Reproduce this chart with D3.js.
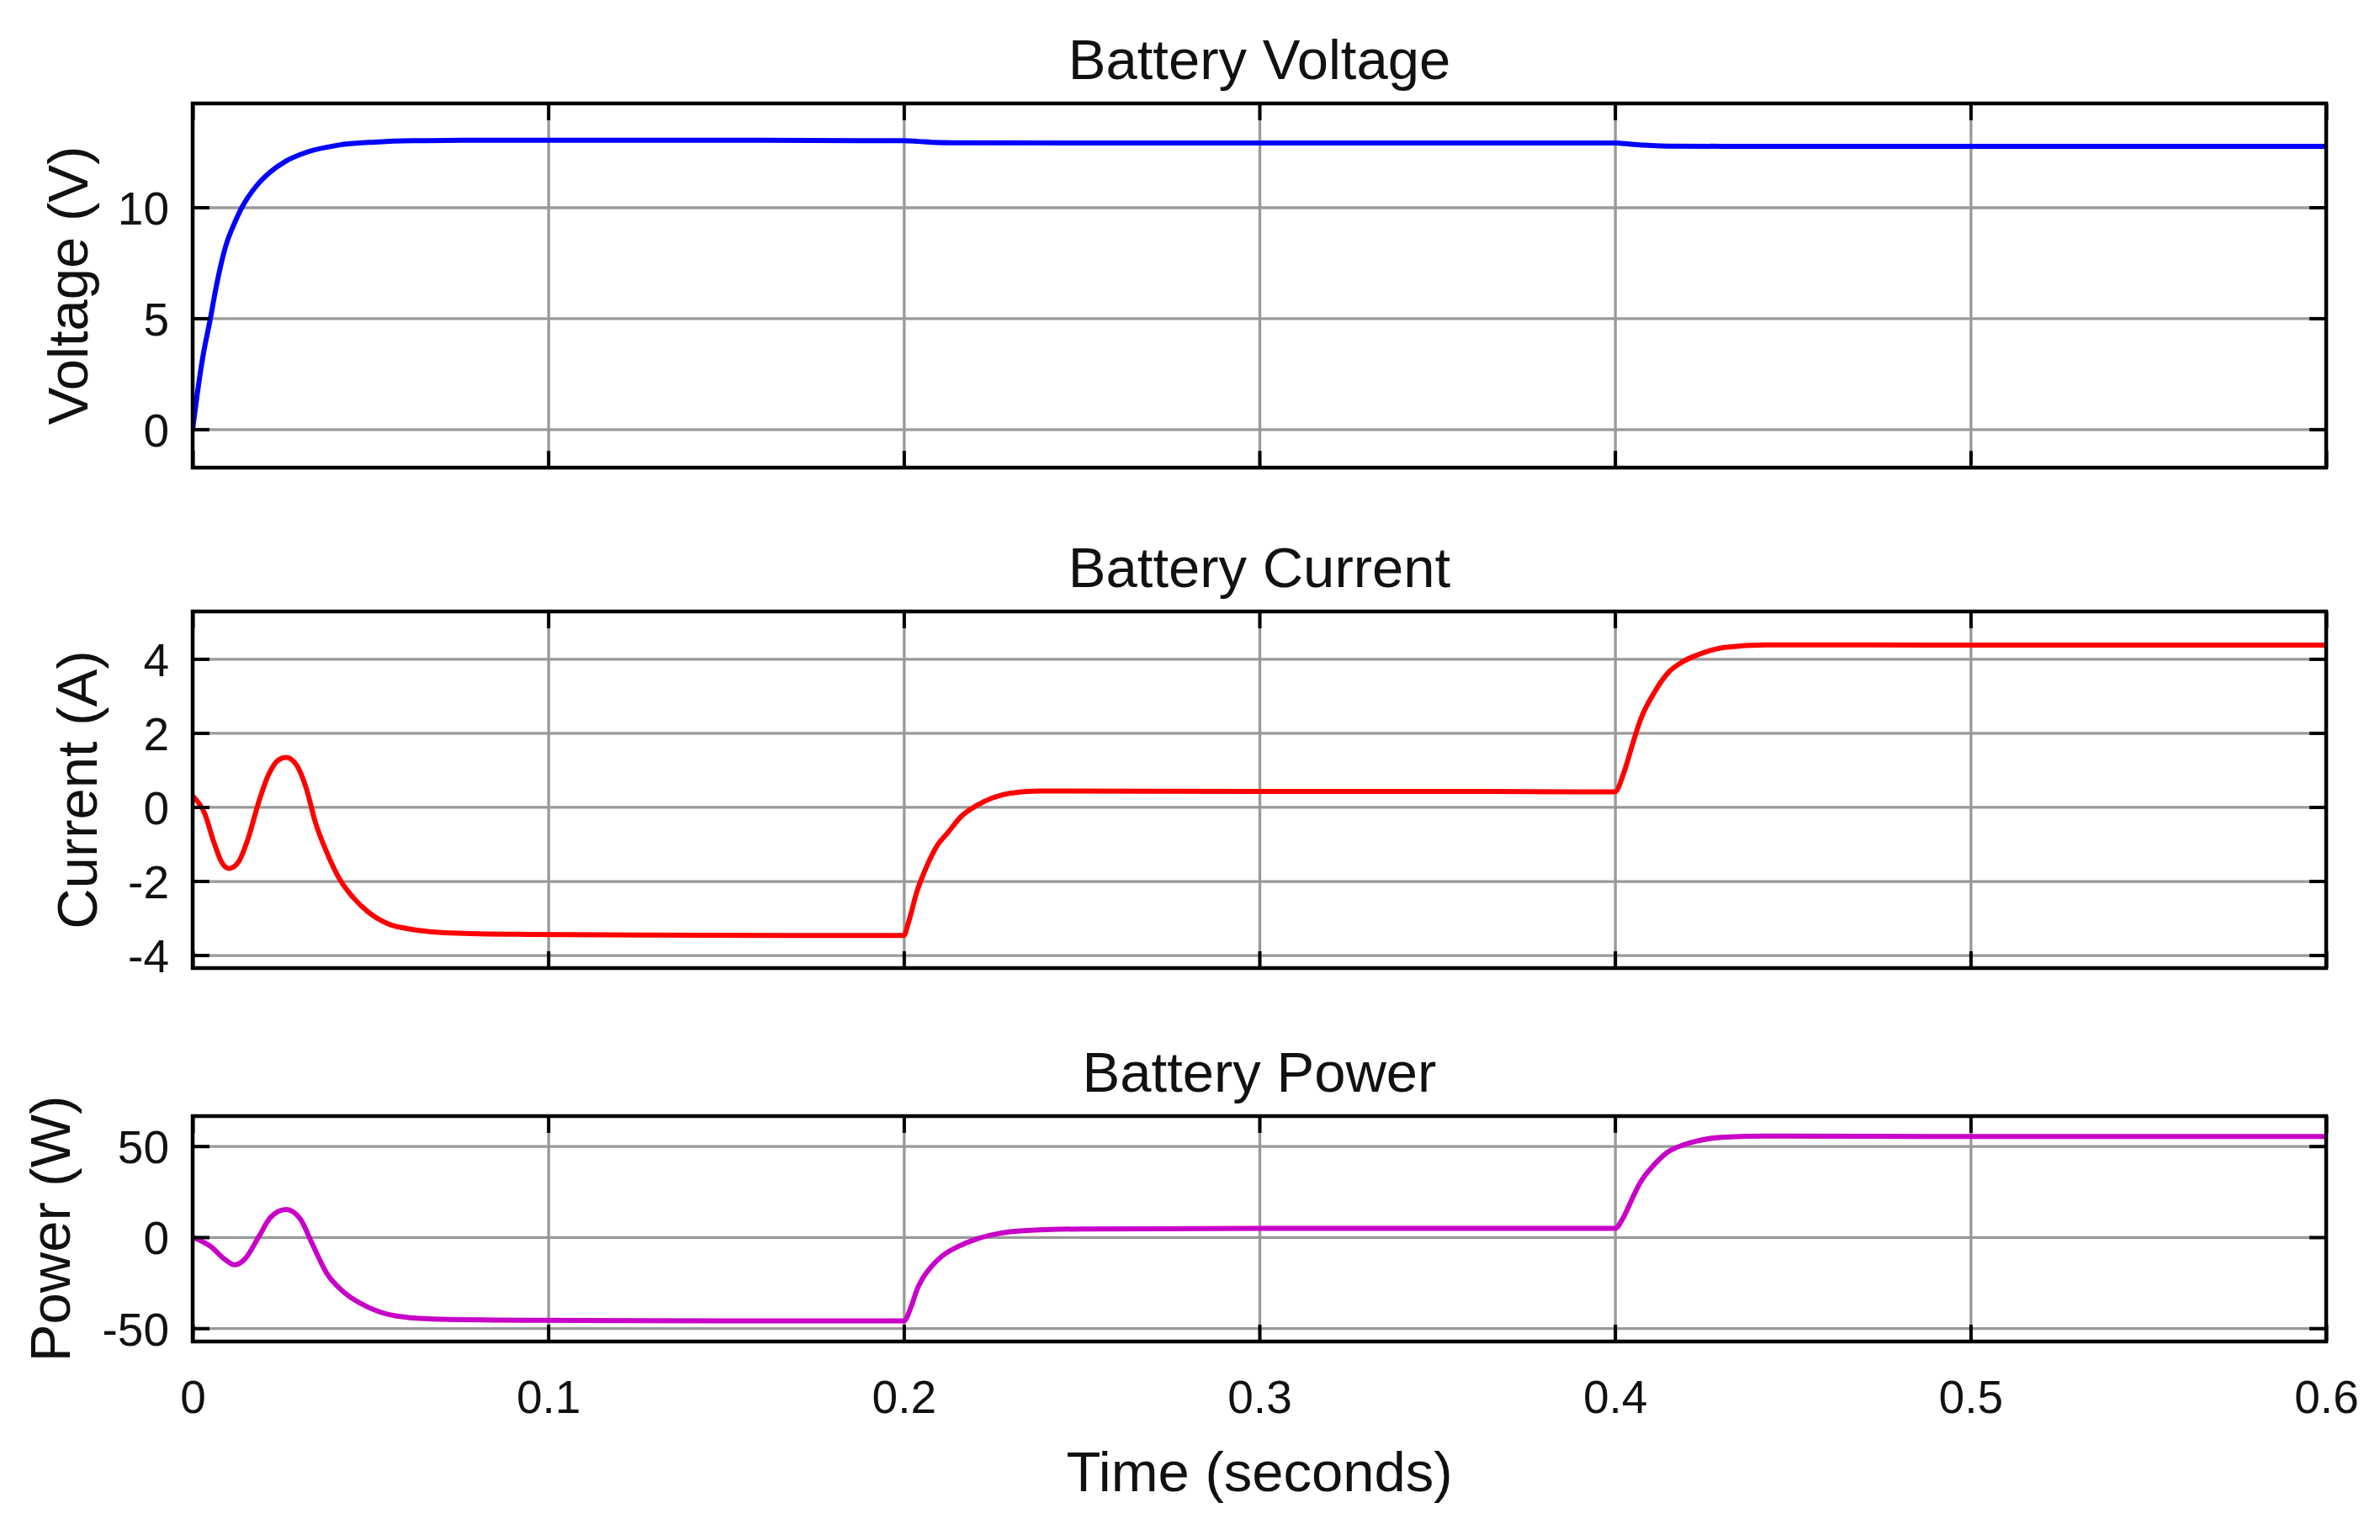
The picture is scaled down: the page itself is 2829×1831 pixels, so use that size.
<!DOCTYPE html>
<html>
<head>
<meta charset="utf-8">
<script src="https://cdn.jsdelivr.net/npm/d3@7"></script>
<style>
  html, body { margin: 0; padding: 0; background: #fff; }
  svg { display: block; }
  text { font-family: "Liberation Sans", Arial, sans-serif; fill: #111; }
</style>
</head>
<body>
<script>
// ---------------- DATA ----------------
const xTicks = [0, 0.1, 0.2, 0.3, 0.4, 0.5, 0.6];
const xTickLabels = ["0", "0.1", "0.2", "0.3", "0.4", "0.5", "0.6"];

const voltageTicks = [0, 5, 10];
const currentTicks = [-4, -2, 0, 2, 4];
const powerTicks = [-50, 0, 50];

const titles = ["Battery Voltage", "Battery Current", "Battery Power"];
const yLabels = ["Voltage (V)", "Current (A)", "Power (W)"];
const xLabel = "Time (seconds)";

const voltageTime = [0, 0.0013, 0.0028, 0.005, 0.0066, 0.0092, 0.0118, 0.014, 0.0176, 0.0219, 0.0261, 0.0324, 0.0409, 0.0513, 0.0619, 0.08, 0.12, 0.16, 0.2, 0.204, 0.208, 0.214, 0.25, 0.3, 0.35, 0.4, 0.404, 0.408, 0.4145, 0.43, 0.5, 0.6];
const voltageValues = [0, 1.6, 3.2, 5.0, 6.4, 8.2, 9.3, 10.04, 10.9, 11.6, 12.07, 12.5, 12.8, 12.94, 13.0, 13.02, 13.02, 13.02, 13.0, 12.97, 12.93, 12.91, 12.9, 12.9, 12.9, 12.9, 12.85, 12.8, 12.76, 12.75, 12.75, 12.75];

const currentTime = [0, 0.0034, 0.006, 0.0081, 0.0102, 0.0129, 0.0155, 0.0187, 0.0213, 0.024, 0.0263, 0.0293, 0.0319, 0.0346, 0.0377, 0.0414, 0.0451, 0.0493, 0.0546, 0.062, 0.0726, 0.0937, 0.13, 0.17, 0.2, 0.2013, 0.2037, 0.2061, 0.2092, 0.2124, 0.2163, 0.2203, 0.225, 0.2297, 0.2376, 0.3, 0.35, 0.4, 0.4024, 0.4048, 0.4071, 0.4111, 0.415, 0.419, 0.423, 0.4308, 0.4426, 0.5, 0.6];
const currentValues = [0.3, -0.18, -0.96, -1.48, -1.66, -1.48, -0.88, 0.17, 0.86, 1.26, 1.34, 1.12, 0.52, -0.44, -1.22, -1.96, -2.44, -2.83, -3.14, -3.31, -3.40, -3.44, -3.46, -3.47, -3.47, -3.12, -2.28, -1.68, -1.07, -0.69, -0.24, 0.03, 0.25, 0.37, 0.43, 0.42, 0.42, 0.41, 0.9, 1.65, 2.34, 3.1, 3.63, 3.92, 4.1, 4.31, 4.38, 4.37, 4.37];

const powerTime = [0, 0.005, 0.0092, 0.0118, 0.0145, 0.0187, 0.0219, 0.0263, 0.0303, 0.0335, 0.0377, 0.043, 0.0493, 0.0567, 0.0673, 0.094, 0.15, 0.2, 0.2021, 0.2037, 0.2053, 0.2076, 0.2108, 0.2155, 0.2203, 0.2266, 0.2337, 0.25, 0.3, 0.4, 0.4024, 0.4048, 0.4071, 0.4111, 0.415, 0.419, 0.423, 0.4308, 0.4426, 0.5, 0.6];
const powerValues = [0, -5, -12.4, -15.2, -12.4, 0.6, 10.9, 15.2, 9.9, -3.1, -19.8, -31, -38.4, -43.1, -44.9, -45.6, -46, -46, -38, -28.8, -22.6, -16.5, -10.3, -4.9, -1.1, 2.0, 3.6, 4.5, 4.8, 4.8, 11, 21, 30, 40, 47, 50.5, 52.8, 55, 55.5, 55.3, 55.3];

const yDomains = [[-1.73, 14.68], [-4.35, 5.28], [-57.3, 66.5]];
const seriesColors = ["#0000ff", "#ff0000", "#c800c8"];

// ---------------- LAYOUT ----------------
const W = 2829, H = 1831;
const left = 229, right = 2765;
const panelBoxes = [
  { top: 123, bottom: 556, yLabelX: 104 },
  { top: 727, bottom: 1151, yLabelX: 115 },
  { top: 1327, bottom: 1595, yLabelX: 83 }
];
const tickLen = 20;
const titleSize = 67, tickSize = 55, labelSize = 67;

const svg = d3.select("body").append("svg").attr("width", W).attr("height", H);

const x = d3.scaleLinear().domain([0, 0.6]).range([left, right]);

const series = [
  { t: voltageTime, v: voltageValues, ticks: voltageTicks },
  { t: currentTime, v: currentValues, ticks: currentTicks },
  { t: powerTime, v: powerValues, ticks: powerTicks }
];

panelBoxes.forEach((box, i) => {
  const y = d3.scaleLinear().domain(yDomains[i]).range([box.bottom, box.top]);
  const g = svg.append("g");
  const w = right - left, h = box.bottom - box.top;

  const clipId = "clip" + i;
  svg.append("clipPath").attr("id", clipId)
    .append("rect").attr("x", left).attr("y", box.top).attr("width", w).attr("height", h);

  // gridlines
  const gridX = g.append("g").attr("transform", `translate(0,${box.bottom})`)
    .call(d3.axisBottom(x).tickValues(xTicks).tickSize(-h).tickFormat(""));
  const gridY = g.append("g").attr("transform", `translate(${left},0)`)
    .call(d3.axisLeft(y).tickValues(series[i].ticks).tickSize(-w).tickFormat(""));
  [gridX, gridY].forEach(a => {
    a.select(".domain").remove();
    a.selectAll("line").attr("stroke", "#999").attr("stroke-width", 3.3);
  });

  // data line
  const data = series[i].t.map((t, k) => [t, series[i].v[k]]);
  const line = d3.line().x(d => x(d[0])).y(d => y(d[1])).curve(d3.curveMonotoneX);
  g.append("path").datum(data)
    .attr("clip-path", `url(#${clipId})`)
    .attr("d", line)
    .attr("fill", "none")
    .attr("stroke", seriesColors[i])
    .attr("stroke-width", 6)
    .attr("stroke-linejoin", "round");

  // inward ticks on all four sides
  const axes = [
    g.append("g").attr("transform", `translate(0,${box.bottom})`)
      .call(d3.axisBottom(x).tickValues(xTicks).tickSize(-tickLen).tickFormat("")),
    g.append("g").attr("transform", `translate(0,${box.top})`)
      .call(d3.axisTop(x).tickValues(xTicks).tickSize(-tickLen).tickFormat("")),
    g.append("g").attr("transform", `translate(${left},0)`)
      .call(d3.axisLeft(y).tickValues(series[i].ticks).tickSize(-tickLen).tickFormat("")),
    g.append("g").attr("transform", `translate(${right},0)`)
      .call(d3.axisRight(y).tickValues(series[i].ticks).tickSize(-tickLen).tickFormat(""))
  ];
  axes.forEach(a => {
    a.select(".domain").remove();
    a.selectAll("line").attr("stroke", "#000").attr("stroke-width", 4);
  });

  // frame
  g.append("rect").attr("x", left).attr("y", box.top).attr("width", w).attr("height", h)
    .attr("fill", "none").attr("stroke", "#000").attr("stroke-width", 4.5);

  // y tick labels (plain hyphen for negatives)
  const yl = g.append("g").attr("transform", `translate(${left},0)`)
    .call(d3.axisLeft(y).tickValues(series[i].ticks).tickSize(0).tickPadding(28).tickFormat(d => String(d)));
  yl.select(".domain").remove();
  yl.selectAll("text").attr("font-size", tickSize).attr("fill", "#111")
    .attr("font-family", "Liberation Sans, Arial, sans-serif").attr("dy", "0.36em");

  // title
  svg.append("text").attr("x", (left + right) / 2).attr("y", box.top - 29)
    .attr("text-anchor", "middle").attr("font-size", titleSize).text(titles[i]);

  // y label
  svg.append("text")
    .attr("transform", `translate(${box.yLabelX},${(box.top + box.bottom) / 2}) rotate(-90)`)
    .attr("text-anchor", "middle").attr("font-size", labelSize).text(yLabels[i]);

  // x tick labels on bottom panel
  if (i === panelBoxes.length - 1) {
    const xl = svg.append("g").attr("transform", `translate(0,${box.bottom})`)
      .call(d3.axisBottom(x).tickValues(xTicks).tickSize(0).tickPadding(0)
        .tickFormat((d, k) => xTickLabels[k]));
    xl.select(".domain").remove();
    xl.selectAll("text").attr("font-size", tickSize).attr("fill", "#111")
      .attr("font-family", "Liberation Sans, Arial, sans-serif")
      .attr("dy", null).attr("y", 85);
  }
});

svg.append("text").attr("x", (left + right) / 2).attr("y", 1773)
  .attr("text-anchor", "middle").attr("font-size", labelSize).text(xLabel);
</script>
</body>
</html>
